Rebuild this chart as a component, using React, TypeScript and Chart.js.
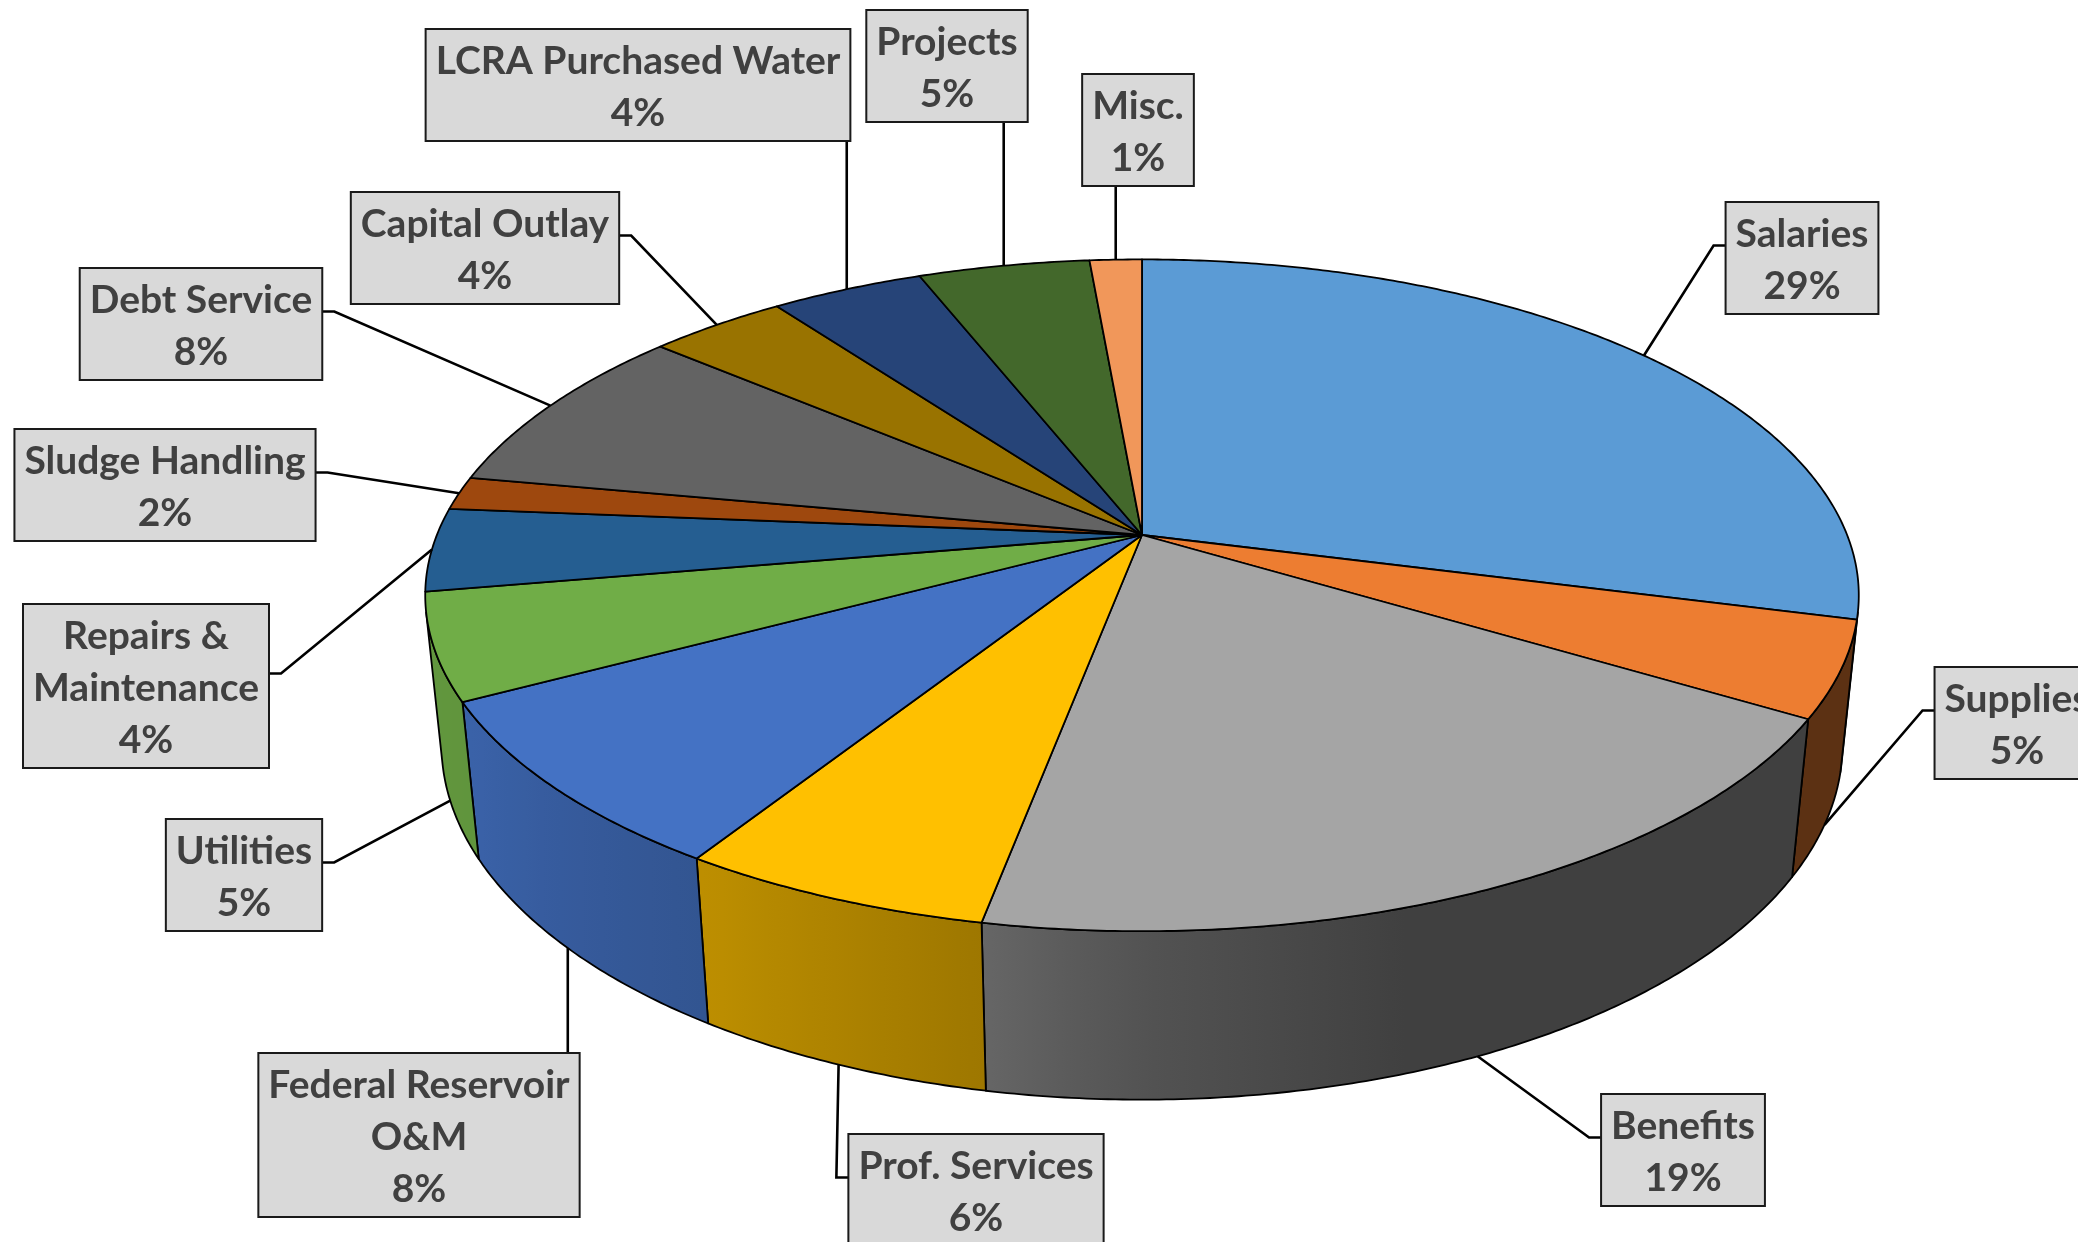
import React, { useEffect, useRef } from 'react';
import { Chart, registerables } from 'chart.js';

Chart.register(...registerables);

// ---------- data ----------
const categories: string[][] = [
  ['Salaries'],
  ['Supplies'],
  ['Benefits'],
  ['Prof. Services'],
  ['Federal Reservoir', 'O&M'],
  ['Utilities'],
  ['Repairs &', 'Maintenance'],
  ['Sludge Handling'],
  ['Debt Service'],
  ['Capital Outlay'],
  ['LCRA Purchased Water'],
  ['Projects'],
  ['Misc.'],
];
const shares: number[] = [29.0, 4.6, 19.4, 6.0, 8.2, 5.1, 4.0, 1.6, 8.3, 3.7, 4.1, 4.6, 1.4];
const sliceColors: string[] = [
  '#5B9BD5', '#ED7D31', '#A5A5A5', '#FFC000', '#4472C4', '#70AD47',
  '#255E91', '#9E480E', '#636363', '#997300', '#264478', '#43682B', '#F1975A',
];

// ---------- layout / style ----------
const calloutCentres: [number, number][] = [
  [1802, 258],
  [2017, 723],
  [1683, 1150],
  [976, 1190],
  [419, 1135],
  [244, 875],
  [146, 686],
  [165, 485],
  [201, 324],
  [485, 248],
  [638, 85],
  [947, 66],
  [1138, 130],
];
const VIEW = { scale: 1.318, dist: 4.94, sinE: 0.461, cosE: 0.887, depth: 0.2413 };
const SHADE_STOPS: [number, number][] = [
  [0, 0.39], [72, 0.39], [90, 0.5], [101, 0.62], [122, 0.74], [152, 0.86], [180, 0.88],
];
const FONT = 'bold 39px Lato';
const LINE_H = 52;
const PAD_X = 10;
const PAD_Y = 4;
const TEXT_COLOR = '#404040';

function project(cx: number, cy: number, R: number, theta: number, z: number): [number, number] {
  const X = Math.cos(theta);
  const Y = Math.sin(theta);
  const den = VIEW.dist - (Y * VIEW.cosE + z * VIEW.sinE);
  const k = (R * VIEW.scale * VIEW.dist) / den;
  return [cx + k * X, cy + k * (Y * VIEW.sinE - z * VIEW.cosE)];
}

function shadeAt(theta: number): number {
  let deg = (theta * 180) / Math.PI;
  deg = Math.max(0, Math.min(180, deg));
  for (let i = 1; i < SHADE_STOPS.length; i++) {
    const [a0, f0] = SHADE_STOPS[i - 1];
    const [a1, f1] = SHADE_STOPS[i];
    if (deg <= a1) return f0 + ((deg - a0) / (a1 - a0)) * (f1 - f0);
  }
  return SHADE_STOPS[SHADE_STOPS.length - 1][1];
}

function scaleColor(hex: string, f: number): string {
  const h = hex.replace('#', '');
  const r = Math.round(parseInt(h.slice(0, 2), 16) * f);
  const g = Math.round(parseInt(h.slice(2, 4), 16) * f);
  const b = Math.round(parseInt(h.slice(4, 6), 16) * f);
  return `rgb(${r},${g},${b})`;
}

function arcGeom(chart: any) {
  const meta = chart.getDatasetMeta(0);
  return meta.data.map((el: any) => {
    const p = el.getProps(['startAngle', 'endAngle', 'x', 'y', 'outerRadius'], true);
    return { ...p, color: el.options.backgroundColor as string };
  });
}

const pie3d = {
  id: 'pie3d',
  beforeDatasetsDraw(chart: any) {
    const ctx: CanvasRenderingContext2D = chart.ctx;
    const arcs = arcGeom(chart);
    const step = (0.5 * Math.PI) / 180;
    const thr = Math.asin(1 / (VIEW.dist * VIEW.cosE));
    const lo = thr;
    const hi = Math.PI - thr;
    ctx.save();
    ctx.lineJoin = 'round';
    ctx.lineWidth = 1.8;
    ctx.strokeStyle = '#000';
    // side walls (front-facing part only)
    arcs.forEach((a: any) => {
      const a0 = Math.max(a.startAngle, lo);
      const a1 = Math.min(a.endAngle, hi);
      if (a1 <= a0) return;
      const n = Math.max(2, Math.ceil((a1 - a0) / step));
      const top: [number, number][] = [];
      const bot: [number, number][] = [];
      for (let i = 0; i <= n; i++) {
        const t = a0 + ((a1 - a0) * i) / n;
        top.push(project(a.x, a.y, a.outerRadius, t, 0));
        bot.push(project(a.x, a.y, a.outerRadius, t, -VIEW.depth));
      }
      ctx.beginPath();
      top.forEach((p, i) => (i ? ctx.lineTo(p[0], p[1]) : ctx.moveTo(p[0], p[1])));
      for (let i = bot.length - 1; i >= 0; i--) ctx.lineTo(bot[i][0], bot[i][1]);
      ctx.closePath();
      const xr = Math.max(top[0][0], bot[0][0]);
      const xl = Math.min(top[n][0], bot[n][0]);
      const grad = ctx.createLinearGradient(xl, 0, xr, 0);
      const gs = 12;
      for (let i = 0; i <= gs; i++) {
        const t = a0 + ((a1 - a0) * i) / gs;
        const px = project(a.x, a.y, a.outerRadius, t, -VIEW.depth / 2)[0];
        const off = xr > xl ? Math.min(1, Math.max(0, (px - xl) / (xr - xl))) : 0;
        grad.addColorStop(off, scaleColor(a.color, shadeAt(t)));
      }
      ctx.fillStyle = grad;
      ctx.fill();
      ctx.stroke();
    });
    // top faces
    arcs.forEach((a: any) => {
      const n = Math.max(2, Math.ceil((a.endAngle - a.startAngle) / step));
      ctx.beginPath();
      ctx.moveTo(a.x, a.y);
      for (let i = 0; i <= n; i++) {
        const t = a.startAngle + ((a.endAngle - a.startAngle) * i) / n;
        const p = project(a.x, a.y, a.outerRadius, t, 0);
        ctx.lineTo(p[0], p[1]);
      }
      ctx.closePath();
      ctx.fillStyle = a.color;
      ctx.fill();
      ctx.stroke();
    });
    ctx.restore();
    return false;
  },
};

const callouts = {
  id: 'callouts',
  afterDraw(chart: any) {
    const ctx: CanvasRenderingContext2D = chart.ctx;
    const arcs = arcGeom(chart);
    const values: number[] = chart.data.datasets[0].data;
    const total = values.reduce((s, v) => s + v, 0);
    ctx.save();
    ctx.font = FONT;
    arcs.forEach((a: any, i: number) => {
      const lines = [...(chart.data.labels[i] as string[]), `${Math.round((values[i] / total) * 100)}%`];
      const w = Math.max(...lines.map((l) => ctx.measureText(l).width)) + PAD_X * 2;
      const h = lines.length * LINE_H + PAD_Y * 2;
      const [bx, by] = calloutCentres[i];
      const left = bx - w / 2;
      const top = by - h / 2;
      const right = left + w;
      const bottom = top + h;
      const mid = (a.startAngle + a.endAngle) / 2;
      const z = Math.sin(mid) > 0.15 ? -VIEW.depth : 0;
      const [ax, ay] = project(a.x, a.y, a.outerRadius, mid, z);
      // leader line
      ctx.beginPath();
      if (ax >= left - 4 && ax <= right + 4) {
        const x = Math.max(left, Math.min(right, ax));
        ctx.moveTo(x, ay > bottom ? bottom : top);
        ctx.lineTo(ax, ay);
      } else {
        const side = ax < left ? left : right;
        const stubX = ax < left ? side - 12 : side + 12;
        const stubY = by - 12.5;
        ctx.moveTo(side, stubY);
        ctx.lineTo(stubX, stubY);
        ctx.lineTo(ax, ay);
      }
      ctx.strokeStyle = '#000';
      ctx.lineWidth = 2.6;
      ctx.lineJoin = 'miter';
      ctx.stroke();
      // box
      ctx.fillStyle = '#D9D9D9';
      ctx.fillRect(left, top, w, h);
      ctx.strokeStyle = '#1a1a1a';
      ctx.lineWidth = 2;
      ctx.strokeRect(left, top, w, h);
      // text
      ctx.fillStyle = TEXT_COLOR;
      ctx.textAlign = 'center';
      ctx.textBaseline = 'middle';
      lines.forEach((l, j) => {
        ctx.fillText(l, bx, by + (j - (lines.length - 1) / 2) * LINE_H + 2);
      });
    });
    ctx.restore();
  },
};

export default function App() {
  const ref = useRef<HTMLCanvasElement>(null);
  useEffect(() => {
    const chart = new Chart(ref.current as HTMLCanvasElement, {
      type: 'pie',
      data: {
        labels: categories as any,
        datasets: [
          {
            data: shares,
            backgroundColor: sliceColors,
            borderWidth: 0,
            offset: 0,
            hoverOffset: 0,
          } as any,
        ],
      },
      options: {
        responsive: false,
        animation: false,
        events: [],
        layout: { padding: { left: 206, right: 0, top: 0, bottom: 172 } },
        plugins: { legend: { display: false }, tooltip: { enabled: false } },
      },
      plugins: [pie3d, callouts] as any,
    });
    return () => chart.destroy();
  }, []);
  return (
    <div style={{ position: 'absolute', left: 0, top: 0, width: 2078, height: 1242, background: '#fff', overflow: 'hidden' }}>
      <canvas ref={ref} width={2078} height={1242} style={{ display: 'block' }} />
    </div>
  );
}
